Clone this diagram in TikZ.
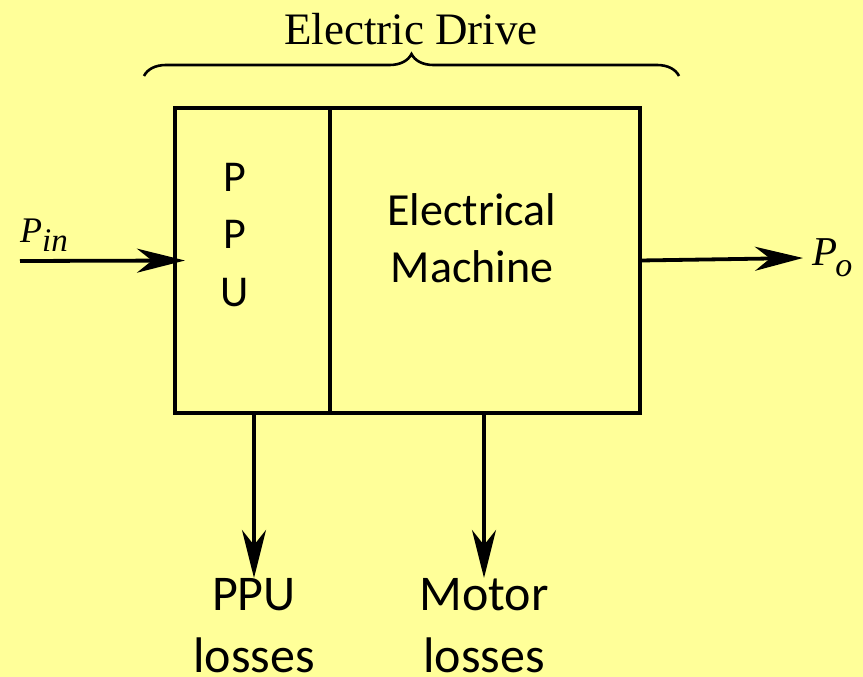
\documentclass[tikz,border=0pt]{standalone}
\usepackage{fontspec}
\setmainfont{Liberation Serif}
\newfontfamily\calibri{Carlito}
\usetikzlibrary{arrows.meta,decorations.pathreplacing}
\definecolor{slidebg}{RGB}{255,255,153}

\begin{document}
\begin{tikzpicture}[x=1pt, y=-1pt,
    blk/.style={draw, line width=3.6pt, minimum height=305pt, inner sep=0pt, outer sep=0pt},
    flow/.style={line width=3.8pt, -{Stealth[length=48pt, width=24pt, inset=15pt]}},
    lbl/.style={font=\calibri\fontsize{50}{62}\selectfont, align=center, inner sep=0pt}]
  \fill[slidebg] (0,0) rectangle (863,677);
  \useasboundingbox (0,0) rectangle (863,677);
  % the two blocks
  \node[blk, minimum width=155pt] (ppu) at (252.5,260.5) {};
  \node[blk, minimum width=310pt] (em) at (485,260.5) {};
  \node[lbl, font=\calibri\fontsize{44}{57.5}\selectfont] (ppuname) at (235,235) {P\\P\\U};
  \node[lbl, font=\calibri\fontsize{46}{57}\selectfont] (emname) at (472,238) {Electrical\\Machine};
  % brace
  \coordinate (brl) at (144,76);
  \coordinate (brr) at (679,76);
  \draw[decorate, decoration={brace, amplitude=22pt}, line width=2.6pt] (brl) -- (brr);
  \node[anchor=base, font=\fontsize{45}{50}\selectfont] (drive) at (411,45) {Electric Drive};
  % power in / out
  \coordinate (pin) at (20,261);
  \node[anchor=base west, inner sep=0pt, font=\fontsize{36}{36}\selectfont] (pinlbl) at (20,242)
    {\textit{P}\raisebox{-9pt}{\fontsize{33}{33}\selectfont\textit{in}}};
  \node[anchor=west, inner sep=0pt, font=\fontsize{41}{41}\selectfont] (polbl) at (812,258)
    {\textit{P}\kern-2pt\raisebox{-11pt}{\fontsize{34}{34}\selectfont\textit{o}}};
  \draw[flow] (pin) -- ([xshift=10pt]ppu.west);
  \draw[flow] (em.east) -- ([xshift=-9pt]polbl.west);
  % losses
  \node[lbl, anchor=north] (ppuloss) at (254,578) {PPU\\losses};
  \node[lbl, anchor=north] (motloss) at (484,578) {Motor\\losses};
  \draw[flow] (ppuloss.north |- ppu.south) -- (ppuloss.north);
  \draw[flow] (motloss.north |- em.south) -- (motloss.north);
\end{tikzpicture}
\end{document}
